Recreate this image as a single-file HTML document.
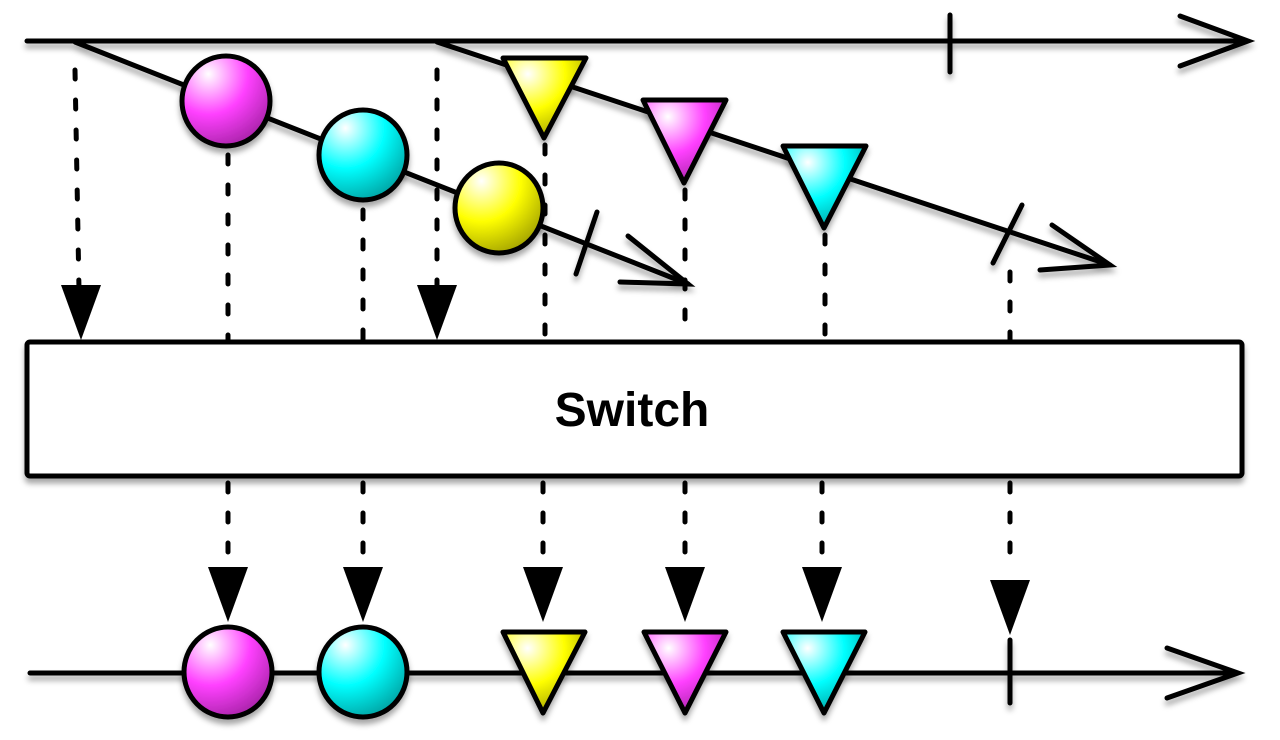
<!DOCTYPE html>
<html><head><meta charset="utf-8"><style>
html,body{margin:0;padding:0;background:#fff;}
svg{display:block;}
</style></head><body>
<svg width="1280" height="740" viewBox="0 0 1280 740" xmlns="http://www.w3.org/2000/svg">
<defs>
<filter id="sh" x="-20%" y="-20%" width="140%" height="160%">
<feDropShadow dx="0" dy="5" stdDeviation="3" flood-color="#000" flood-opacity="0.35"/>
</filter>
<radialGradient id="gm" cx="0.3" cy="0.2" r="0.9"><stop offset="0" stop-color="#fff"/><stop offset="0.5" stop-color="#ff40ff"/><stop offset="1" stop-color="#a020a0"/></radialGradient>
<radialGradient id="gc" cx="0.3" cy="0.2" r="0.9"><stop offset="0" stop-color="#fff"/><stop offset="0.5" stop-color="#00ffff"/><stop offset="1" stop-color="#009a9a"/></radialGradient>
<radialGradient id="gy" cx="0.3" cy="0.2" r="0.9"><stop offset="0" stop-color="#fff"/><stop offset="0.5" stop-color="#ffff00"/><stop offset="1" stop-color="#9a9a00"/></radialGradient>
</defs>
<g stroke="#000" stroke-width="5" stroke-linecap="round" fill="none" filter="url(#sh)">
<line x1="27" y1="41" x2="1246" y2="41"/>
<polyline points="1180,16 1248,41 1180,66"/>
<line x1="950" y1="15" x2="950" y2="72"/>
<line x1="75" y1="42" x2="688" y2="284"/>
<line x1="597" y1="212" x2="576" y2="274"/>
<polyline points="628,236 688,284 620,282"/>
<line x1="437" y1="42" x2="1110" y2="265"/>
<line x1="1022" y1="205" x2="993" y2="263"/>
<polyline points="1052,225 1110,265 1040,270"/>
<line x1="30" y1="673" x2="1236" y2="673"/>
<polyline points="1167,648 1238,673 1167,698"/>
<line x1="1010" y1="640" x2="1010" y2="703"/>
</g>
<g stroke="#000" stroke-width="5" stroke-dasharray="9,21" stroke-linecap="round" fill="none">
<line x1="75" y1="70" x2="79" y2="290"/>
<line x1="437" y1="70" x2="437" y2="290"/>
<line x1="228" y1="155" x2="228" y2="340"/>
<line x1="363" y1="210" x2="363" y2="340"/>
<line x1="545" y1="145" x2="545" y2="340"/>
<line x1="685" y1="190" x2="685" y2="340"/>
<line x1="825" y1="235" x2="825" y2="340"/>
<line x1="1010" y1="272" x2="1010" y2="340"/>
<line x1="228" y1="483" x2="228" y2="570"/>
<line x1="363" y1="483" x2="363" y2="570"/>
<line x1="543" y1="483" x2="543" y2="570"/>
<line x1="685" y1="483" x2="685" y2="570"/>
<line x1="822" y1="483" x2="822" y2="570"/>
<line x1="1010" y1="483" x2="1010" y2="570"/>
</g>
<g fill="#000">
<polygon points="61,285 101,285 81,340"/>
<polygon points="417,285 457,285 437,340"/>
<polygon points="208,567 248,567 228,622"/>
<polygon points="343,567 383,567 363,622"/>
<polygon points="523,567 563,567 543,622"/>
<polygon points="665,567 705,567 685,622"/>
<polygon points="802,567 842,567 822,622"/>
<polygon points="990,580 1030,580 1010,635"/>
</g>
<rect x="27" y="342" width="1215" height="134" rx="3" fill="#fff" stroke="#000" stroke-width="5" filter="url(#sh)"/>
<text x="632" y="426" text-anchor="middle" font-family="Liberation Sans, sans-serif" font-weight="bold" font-size="48">Switch</text>
<g stroke="#000" stroke-width="5" stroke-linejoin="round" filter="url(#sh)">
<ellipse cx="226" cy="101" rx="44" ry="45" fill="url(#gm)"/>
<ellipse cx="363" cy="155" rx="44" ry="45" fill="url(#gc)"/>
<ellipse cx="499" cy="208" rx="44" ry="45" fill="url(#gy)"/>
<polygon points="503,58 586,58 544,138" fill="url(#gy)"/>
<polygon points="643,100 726,100 684,183" fill="url(#gm)"/>
<polygon points="783,146 866,146 824,228" fill="url(#gc)"/>
<ellipse cx="228" cy="672" rx="44" ry="45" fill="url(#gm)"/>
<ellipse cx="363" cy="672" rx="44" ry="45" fill="url(#gc)"/>
<polygon points="503,632 585,632 543,713" fill="url(#gy)"/>
<polygon points="644,632 726,632 685,713" fill="url(#gm)"/>
<polygon points="783,632 865,632 824,713" fill="url(#gc)"/>
</g>
</svg>
</body></html>
